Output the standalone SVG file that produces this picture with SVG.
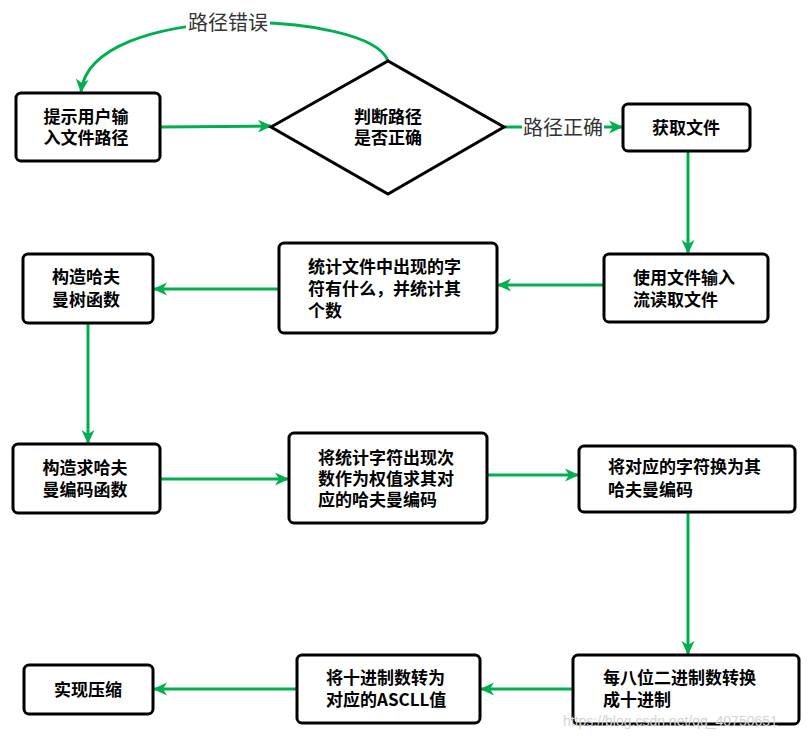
<svg xmlns="http://www.w3.org/2000/svg" width="811" height="740" viewBox="0 0 811 740">
<style>
.box{fill:#fff;stroke:#000;stroke-width:3}
.t{font-family:"Noto Sans CJK SC","Noto Sans",sans-serif;font-size:17px;font-weight:bold;fill:#000}
.lbl{font-family:"Noto Sans CJK SC","Noto Sans",sans-serif;font-size:20px;fill:#333}
.e{fill:none;stroke:#00B050;stroke-width:3;marker-end:url(#ah)}
.wm{font-family:"Liberation Sans",Arial,sans-serif;font-size:14px;fill:#d4d4d4}
</style>
<defs>
<marker id="ah" markerUnits="userSpaceOnUse" markerWidth="14" markerHeight="14" viewBox="0 0 14 14" refX="13" refY="7" orient="auto">
<path d="M0,0.5 L14,7 L0,13.5 L4,7 z" fill="#00B050"/>
</marker>
</defs>
<rect width="811" height="740" fill="#fff"/>
<g id="connectors">
<path class="e" d="M160,127 L271,126"/>
<path class="e" d="M388,61 C370,10 90,0 81,92"/>
<path class="e" d="M504,127 L622,127"/>
<path class="e" d="M688,151 L688,253"/>
<path class="e" d="M604,285 L498,285"/>
<path class="e" d="M279,289 L154,289"/>
<path class="e" d="M88,323 L88,443"/>
<path class="e" d="M160,479 L288,479"/>
<path class="e" d="M487,475 L578,475"/>
<path class="e" d="M688,512 L688,654"/>
<path class="e" d="M573,689 L481,689"/>
<path class="e" d="M297,689 L154,689"/>
<rect x="186" y="9" width="84" height="28" fill="#fff"/>
<text class="lbl" x="228" y="30" text-anchor="middle">路径错误</text>
<rect x="522" y="114" width="82" height="28" fill="#fff"/>
<text class="lbl" x="563" y="135" text-anchor="middle">路径正确</text>
</g>
<g id="n1">
<rect class="box" x="16" y="93" width="144" height="68" rx="5"/>
<text class="t" x="86" y="123" text-anchor="middle">提示用户输</text>
<text class="t" x="86" y="144" text-anchor="middle">入文件路径</text>
</g>
<g id="n2">
<polygon points="271,127 388,61 504,127 388,194" fill="#fff" stroke="#000" stroke-width="3" stroke-linejoin="miter"/>
<text class="t" x="388" y="123" text-anchor="middle">判断路径</text>
<text class="t" x="388" y="144" text-anchor="middle">是否正确</text>
</g>
<g id="n3">
<rect class="box" x="623" y="104" width="127" height="47" rx="5"/>
<text class="t" x="686" y="134" text-anchor="middle">获取文件</text>
</g>
<g id="n4">
<rect class="box" x="604" y="254" width="164" height="68" rx="5"/>
<text class="t" x="633" y="284">使用文件输入</text>
<text class="t" x="633" y="306">流读取文件</text>
</g>
<g id="n5">
<rect class="box" x="279" y="243" width="218" height="90" rx="5"/>
<text class="t" x="308" y="273">统计文件中出现的字</text>
<text class="t" x="308" y="295">符有什么，并统计其</text>
<text class="t" x="308" y="317">个数</text>
</g>
<g id="n6">
<rect class="box" x="23" y="254" width="130" height="69" rx="5"/>
<text class="t" x="86" y="283" text-anchor="middle">构造哈夫</text>
<text class="t" x="86" y="306" text-anchor="middle">曼树函数</text>
</g>
<g id="n7">
<rect class="box" x="13" y="444" width="147" height="69" rx="5"/>
<text class="t" x="85" y="474" text-anchor="middle">构造求哈夫</text>
<text class="t" x="85" y="496" text-anchor="middle">曼编码函数</text>
</g>
<g id="n8">
<rect class="box" x="289" y="433" width="198" height="90" rx="5"/>
<text class="t" x="318" y="464">将统计字符出现次</text>
<text class="t" x="318" y="485">数作为权值求其对</text>
<text class="t" x="318" y="506">应的哈夫曼编码</text>
</g>
<g id="n9">
<rect class="box" x="579" y="446" width="216" height="66" rx="5"/>
<text class="t" x="608" y="473">将对应的字符换为其</text>
<text class="t" x="608" y="496">哈夫曼编码</text>
</g>
<g id="n10">
<rect class="box" x="573" y="655" width="226" height="69" rx="5"/>
<text class="t" x="603" y="684">每八位二进制数转换</text>
<text class="t" x="603" y="706">成十进制</text>
</g>
<g id="n11">
<rect class="box" x="297" y="655" width="183" height="68" rx="5"/>
<text class="t" x="326" y="684">将十进制数转为</text>
<text class="t" x="326" y="706">对应的ASCLL值</text>
</g>
<g id="n12">
<rect class="box" x="24" y="665" width="129" height="49" rx="5"/>
<text class="t" x="88" y="696" text-anchor="middle">实现压缩</text>
</g>
<text class="wm" x="563" y="726">https://blog.csdn.net/qq_40750651</text>
</svg>
